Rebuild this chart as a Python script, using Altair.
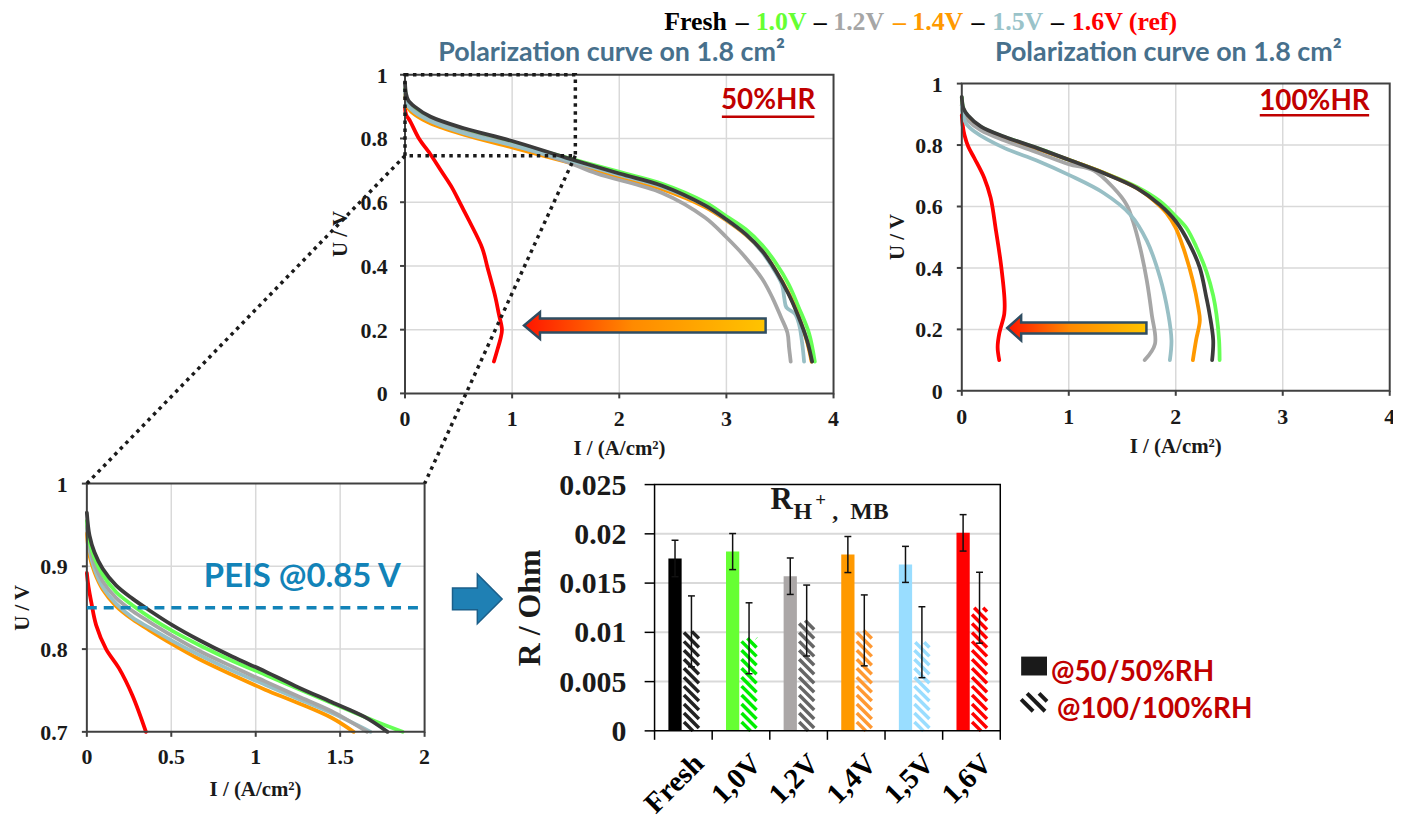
import altair as alt
import pandas as pd

# ------------------------------------------------------------------ data
# polarization curves, points are (I [A/cm2], U [V])
HR50_FRESH = [(0.00, 0.975), (0.01, 0.94), (0.03, 0.92), (0.09, 0.90), (0.24, 0.868), (0.55, 0.832),
              (1.00, 0.792), (1.50, 0.740), (2.00, 0.690), (2.40, 0.652), (2.80, 0.590), (3.00, 0.546),
              (3.18, 0.500), (3.335, 0.447), (3.46, 0.385), (3.58, 0.312), (3.675, 0.239), (3.753, 0.166),
              (3.80, 0.100)]
HR50_10V = [(0.00, 0.955), (0.01, 0.93), (0.03, 0.91), (0.09, 0.888), (0.24, 0.860), (0.55, 0.825),
            (1.00, 0.786), (1.50, 0.741), (2.00, 0.695), (2.40, 0.658), (2.80, 0.600), (3.00, 0.556),
            (3.18, 0.515), (3.335, 0.465), (3.46, 0.410), (3.58, 0.343), (3.675, 0.270), (3.77, 0.190),
            (3.825, 0.100)]
HR50_12V = [(0.00, 0.950), (0.01, 0.925), (0.03, 0.905), (0.09, 0.885), (0.24, 0.857), (0.55, 0.820),
            (1.00, 0.780), (1.50, 0.728), (1.79, 0.690), (2.40, 0.629), (2.80, 0.552), (3.00, 0.490),
            (3.18, 0.426), (3.335, 0.359), (3.43, 0.300), (3.51, 0.239), (3.57, 0.190), (3.585, 0.143),
            (3.60, 0.100)]
HR50_14V = [(0.00, 0.940), (0.01, 0.915), (0.03, 0.895), (0.09, 0.875), (0.24, 0.847), (0.55, 0.812),
            (1.00, 0.772), (1.50, 0.727), (2.00, 0.679), (2.40, 0.641), (2.80, 0.585), (3.00, 0.543),
            (3.18, 0.498), (3.335, 0.446), (3.46, 0.386), (3.58, 0.315), (3.675, 0.240), (3.75, 0.166),
            (3.795, 0.100)]
HR50_15V = [(0.00, 0.950), (0.01, 0.922), (0.03, 0.902), (0.09, 0.882), (0.24, 0.854), (0.55, 0.817),
            (1.00, 0.779), (1.50, 0.734), (2.00, 0.686), (2.40, 0.648), (2.80, 0.590), (3.00, 0.545),
            (3.18, 0.500), (3.33, 0.445), (3.45, 0.385), (3.52, 0.340), (3.54, 0.300), (3.56, 0.270),
            (3.64, 0.250), (3.68, 0.215), (3.71, 0.150), (3.725, 0.100)]
HR50_16V = [(0.00, 0.895), (0.01, 0.875), (0.05, 0.853), (0.13, 0.800), (0.24, 0.749), (0.34, 0.697),
            (0.44, 0.645), (0.52, 0.593), (0.60, 0.541), (0.72, 0.457), (0.77, 0.395), (0.845, 0.300),
            (0.875, 0.250), (0.905, 0.200), (0.89, 0.170), (0.865, 0.140), (0.83, 0.100)]

HR100_FRESH = [(0.00, 0.957), (0.015, 0.920), (0.056, 0.897), (0.18, 0.860), (0.40, 0.827), (0.706, 0.790),
               (1.00, 0.752), (1.326, 0.709), (1.636, 0.660), (1.85, 0.606), (2.00, 0.552), (2.13, 0.477),
               (2.225, 0.400), (2.286, 0.304), (2.316, 0.250), (2.35, 0.165), (2.34, 0.100)]
HR100_10V = [(0.00, 0.955), (0.015, 0.918), (0.056, 0.895), (0.18, 0.858), (0.40, 0.826), (0.706, 0.790),
             (1.00, 0.752), (1.326, 0.710), (1.636, 0.664), (1.85, 0.618), (2.00, 0.568), (2.10, 0.530),
             (2.19, 0.470), (2.29, 0.385), (2.35, 0.310), (2.38, 0.250), (2.405, 0.165), (2.41, 0.100)]
HR100_12V = [(0.00, 0.930), (0.015, 0.900), (0.056, 0.880), (0.18, 0.848), (0.40, 0.815), (0.706, 0.776),
             (1.00, 0.738), (1.23, 0.718), (1.42, 0.660), (1.54, 0.606), (1.60, 0.552), (1.667, 0.466),
             (1.73, 0.358), (1.775, 0.250), (1.806, 0.153), (1.71, 0.100)]
HR100_14V = [(0.00, 0.930), (0.015, 0.905), (0.056, 0.885), (0.18, 0.853), (0.40, 0.822), (0.706, 0.787),
             (1.00, 0.752), (1.326, 0.710), (1.636, 0.660), (1.80, 0.618), (1.915, 0.578), (2.00, 0.530),
             (2.07, 0.466), (2.16, 0.358), (2.21, 0.272), (2.225, 0.229), (2.19, 0.165), (2.16, 0.100)]
HR100_15V = [(0.00, 0.930), (0.01, 0.900), (0.04, 0.870), (0.118, 0.844), (0.40, 0.790), (0.70, 0.750),
             (1.00, 0.703), (1.326, 0.644), (1.574, 0.574), (1.73, 0.488), (1.853, 0.369), (1.93, 0.250),
             (1.96, 0.164), (1.945, 0.100)]
HR100_16V = [(0.00, 0.897), (0.01, 0.860), (0.025, 0.833), (0.06, 0.795), (0.118, 0.757), (0.21, 0.693),
             (0.27, 0.628), (0.32, 0.520), (0.366, 0.412), (0.40, 0.293), (0.397, 0.250), (0.35, 0.186),
             (0.335, 0.142), (0.35, 0.100)]

ZOOM_FRESH = [(0.0, 0.965), (0.016, 0.937), (0.045, 0.917), (0.094, 0.897), (0.173, 0.877), (0.27, 0.861),
              (0.369, 0.847), (0.506, 0.829), (0.664, 0.811), (0.86, 0.791), (1.056, 0.773), (1.25, 0.754),
              (1.449, 0.736), (1.645, 0.718), (1.78, 0.700)]
ZOOM_10V = [(0.0, 0.955), (0.016, 0.930), (0.045, 0.910), (0.094, 0.890), (0.173, 0.869), (0.27, 0.853),
            (0.369, 0.839), (0.506, 0.822), (0.664, 0.805), (0.86, 0.786), (1.056, 0.769), (1.25, 0.752),
            (1.449, 0.735), (1.645, 0.718), (1.87, 0.700)]
ZOOM_12V = [(0.0, 0.950), (0.016, 0.925), (0.045, 0.903), (0.094, 0.882), (0.173, 0.862), (0.27, 0.846),
            (0.369, 0.833), (0.506, 0.816), (0.664, 0.798), (0.86, 0.779), (1.056, 0.761), (1.25, 0.743),
            (1.449, 0.725), (1.66, 0.700)]
ZOOM_14V = [(0.0, 0.940), (0.016, 0.913), (0.045, 0.893), (0.094, 0.872), (0.173, 0.852), (0.27, 0.836),
            (0.369, 0.823), (0.506, 0.806), (0.664, 0.788), (0.86, 0.769), (1.056, 0.751), (1.25, 0.735),
            (1.449, 0.717), (1.58, 0.700)]
ZOOM_15V = [(0.0, 0.952), (0.016, 0.920), (0.045, 0.897), (0.094, 0.875), (0.173, 0.855), (0.27, 0.838),
            (0.369, 0.826), (0.506, 0.810), (0.664, 0.793), (0.86, 0.774), (1.056, 0.757), (1.25, 0.740),
            (1.449, 0.723), (1.68, 0.700)]
ZOOM_16V = [(0.0, 0.892), (0.01, 0.875), (0.026, 0.857), (0.055, 0.829), (0.114, 0.800), (0.19, 0.777),
            (0.27, 0.744), (0.35, 0.700)]

TICKS_POL_X = [0, 1, 2, 3, 4]
TICKS_POL_Y = [0, 0.2, 0.4, 0.6, 0.8, 1]
TICKS_ZOOM_X = [0, 0.5, 1, 1.5, 2]
TICKS_ZOOM_Y = [0.7, 0.8, 0.9, 1]
ZOOM_BOX_I = [0, 1.59]
ZOOM_BOX_U = [0.746, 1.0]
PEIS_U = 0.85

CATEGORIES = ["Fresh", "1,0V", "1,2V", "1,4V", "1,5V", "1,6V"]
R_50 = [0.0175, 0.0182, 0.0157, 0.0179, 0.0169, 0.0201]
R_50_ERR = [0.00185, 0.00183, 0.00185, 0.00183, 0.00183, 0.00185]
R_100 = [0.0101, 0.0094, 0.0112, 0.0102, 0.0090, 0.0125]
R_100_ERR = [0.0036, 0.0036, 0.0036, 0.0036, 0.0036, 0.0036]
TICKS_BAR_Y = [0, 0.005, 0.01, 0.015, 0.02, 0.025]
TICKS_BAR_X = [0, 1, 2, 3, 4, 5, 6]

# ------------------------------------------------------------------ style
C_FRESH, C_10, C_12, C_14, C_15, C_16 = "#3b3b3b", "#66ff55", "#a6a6a6", "#ff9900", "#98bfc5", "#ff0000"
BAR_COLORS = ["#000000", "#66ff33", "#aba7a7", "#ff9900", "#99ddff", "#ff0000"]
HATCH_COLORS = ["#222222", "#00ee00", "#666666", "#ff9933", "#99ddff", "#ff0000"]
SERIF = "Liberation Serif"
SANS = "Lato"
GRID = "#d9d9d9"
FRAME = "#404040"
INK = "#1a1a1a"
DARKRED = "#c00000"
W, H = 1393, 810
TICK_FS = 22
ONE = pd.DataFrame({"a": [0]})


def curve_df(pts):
    return pd.DataFrame({"I": [p[0] for p in pts], "U": [p[1] for p in pts], "k": list(range(len(pts)))})


def tick_df(values):
    return pd.DataFrame({"v": values, "lab": [f"{v:g}" for v in values]})


def x_ticks(values, sx, ypx, tick, color, width, fs=TICK_FS, lab_base=None, labels=True):
    df = tick_df(values)
    out = [alt.Chart(df).mark_rule(color=color, strokeWidth=width).encode(
        x=alt.X("v:Q", scale=sx, axis=None), y=alt.value(ypx), y2=alt.value(ypx + tick))]
    if labels:
        out.append(alt.Chart(df).mark_text(font=SERIF, fontWeight="bold", fontSize=fs, color=INK,
                                           align="center", baseline="alphabetic").encode(
            x=alt.X("v:Q", scale=sx, axis=None), y=alt.value(lab_base), text="lab:N"))
    return out


def y_ticks(values, sy, xpx, tick, color, width, fs=TICK_FS, lab_right=None):
    df = tick_df(values)
    return [alt.Chart(df).mark_rule(color=color, strokeWidth=width).encode(
                y=alt.Y("v:Q", scale=sy, axis=None), x=alt.value(xpx - tick), x2=alt.value(xpx)),
            alt.Chart(df).mark_text(font=SERIF, fontWeight="bold", fontSize=fs, color=INK,
                                    align="right", baseline="middle", dy=1).encode(
                y=alt.Y("v:Q", scale=sy, axis=None), x=alt.value(lab_right), text="lab:N")]


def panel(curves, sx, sy, xdom, ydom, xgrid, ygrid):
    layers = []
    gx = pd.DataFrame({"v": xgrid, "lo": [ydom[0]] * len(xgrid), "hi": [ydom[1]] * len(xgrid)})
    layers.append(alt.Chart(gx).mark_rule(color=GRID, strokeWidth=1.5).encode(
        x=alt.X("v:Q", scale=sx, axis=None), y=alt.Y("lo:Q", scale=sy, axis=None), y2="hi:Q"))
    gy = pd.DataFrame({"v": ygrid, "lo": [xdom[0]] * len(ygrid), "hi": [xdom[1]] * len(ygrid)})
    layers.append(alt.Chart(gy).mark_rule(color=GRID, strokeWidth=1.5).encode(
        y=alt.Y("v:Q", scale=sy, axis=None), x=alt.X("lo:Q", scale=sx, axis=None), x2="hi:Q"))
    for pts, color in curves:
        layers.append(alt.Chart(curve_df(pts)).mark_line(
            color=color, strokeWidth=3.8, interpolate="catmull-rom", strokeCap="round", strokeJoin="round"
        ).encode(x=alt.X("I:Q", scale=sx, axis=None), y=alt.Y("U:Q", scale=sy, axis=None),
                 order=alt.Order("k:Q")))
    frame = pd.DataFrame({"x0": [xdom[0]], "x1": [xdom[1]], "y0": [ydom[0]], "y1": [ydom[1]]})
    layers.append(alt.Chart(frame).mark_rect(fillOpacity=0, stroke=FRAME, strokeWidth=2).encode(
        x=alt.X("x0:Q", scale=sx, axis=None), x2="x1:Q",
        y=alt.Y("y0:Q", scale=sy, axis=None), y2="y1:Q"))
    return layers


def txt(s, x, y, size, color="#000000", font=SANS, align="left", baseline="alphabetic", angle=None):
    kw = dict(text=s, fontSize=size, color=color, font=font, fontWeight="bold", align=align, baseline=baseline)
    if angle is not None:
        kw["angle"] = angle
    return alt.Chart(ONE).mark_text(**kw).encode(x=alt.value(x), y=alt.value(y))


def seg(x, y, x2, y2, color, width, dash=None):
    kw = dict(color=color, strokeWidth=width)
    if dash:
        kw["strokeDash"] = dash
    return alt.Chart(ONE).mark_rule(**kw).encode(x=alt.value(x), y=alt.value(y),
                                                 x2=alt.value(x2), y2=alt.value(y2))


def shape(path, x, y, size, fill, stroke, sw):
    return alt.Chart(ONE).mark_point(shape=path, size=size, filled=True, fill=fill, stroke=stroke,
                                     strokeWidth=sw, opacity=1).encode(x=alt.value(x), y=alt.value(y))


DOT = [3.5, 4.5]
GRAD = alt.LinearGradient(gradient="linear", x1=0, x2=1, y1=0, y2=0,
                          stops=[alt.GradientStop(color="#ff1500", offset=0),
                                 alt.GradientStop(color="#ff8a00", offset=0.45),
                                 alt.GradientStop(color="#ffc400", offset=1)])

# ------------------------------------------------------------------ panel 1 (50 %HR)
sx1 = alt.Scale(domain=[0, 4], range=[399.3, 830.3], nice=False, zero=False)
sy1 = alt.Scale(domain=[0, 1], range=[385.3, 64.8], nice=False, zero=False)
p1 = panel([(HR50_16V, C_16), (HR50_10V, C_10), (HR50_14V, C_14), (HR50_12V, C_12), (HR50_15V, C_15),
            (HR50_FRESH, C_FRESH)], sx1, sy1, [0, 4], [0, 1], [1, 2, 3], [0.2, 0.4, 0.6, 0.8])
p1 += x_ticks(TICKS_POL_X, sx1, 385.3, 5, FRAME, 2, lab_base=418)
p1 += y_ticks(TICKS_POL_Y, sy1, 399.3, 5, FRAME, 2, lab_right=382)
box = pd.DataFrame({"x0": [ZOOM_BOX_I[0]], "x1": [ZOOM_BOX_I[1]], "y0": [ZOOM_BOX_U[0]], "y1": [ZOOM_BOX_U[1]]})
p1.append(alt.Chart(box).mark_rect(fillOpacity=0, stroke=INK, strokeWidth=3.5, strokeDash=DOT).encode(
    x=alt.X("x0:Q", scale=sx1, axis=None), x2="x1:Q", y=alt.Y("y0:Q", scale=sy1, axis=None), y2="y1:Q"))
layer1 = alt.layer(*p1)

# ------------------------------------------------------------------ panel 2 (100 %HR)
sx2 = alt.Scale(domain=[0, 4], range=[959.3, 1389.7], nice=False, zero=False)
sy2 = alt.Scale(domain=[0, 1], range=[382.7, 73.7], nice=False, zero=False)
p2 = panel([(HR100_16V, C_16), (HR100_10V, C_10), (HR100_14V, C_14), (HR100_12V, C_12), (HR100_15V, C_15),
            (HR100_FRESH, C_FRESH)], sx2, sy2, [0, 4], [0, 1], [1, 2, 3], [0.2, 0.4, 0.6, 0.8])
p2 += x_ticks(TICKS_POL_X, sx2, 382.7, 5, FRAME, 2, lab_base=416)
p2 += y_ticks(TICKS_POL_Y, sy2, 959.3, 5, FRAME, 2, lab_right=940)
layer2 = alt.layer(*p2)

# ------------------------------------------------------------------ zoom panel
sxz = alt.Scale(domain=[0, 2], range=[79.3, 419.0], nice=False, zero=False)
syz = alt.Scale(domain=[0.7, 1], range=[725.7, 476.0], nice=False, zero=False)
pz = panel([(ZOOM_16V, C_16), (ZOOM_14V, C_14), (ZOOM_15V, C_15), (ZOOM_12V, C_12), (ZOOM_10V, C_10),
            (ZOOM_FRESH, C_FRESH)], sxz, syz, [0, 2], [0.7, 1], [0.5, 1, 1.5], [0.8, 0.9])
pz += x_ticks(TICKS_ZOOM_X, sxz, 725.7, 5, FRAME, 2, lab_base=758)
pz += y_ticks(TICKS_ZOOM_Y, syz, 79.3, 5, FRAME, 2, lab_right=60)
peis = pd.DataFrame({"u": [PEIS_U], "lo": [0], "hi": [2]})
pz.append(alt.Chart(peis).mark_rule(color="#1283b8", strokeWidth=3.5, strokeDash=[10, 7]).encode(
    y=alt.Y("u:Q", scale=syz, axis=None), x=alt.X("lo:Q", scale=sxz, axis=None), x2="hi:Q"))
layerz = alt.layer(*pz)

# ------------------------------------------------------------------ bar chart
sxb = alt.Scale(domain=[0, 6], range=[650.3, 998.0], nice=False, zero=False)
syb = alt.Scale(domain=[0, 0.025], range=[724.7, 477.0], nice=False, zero=False)
PX_X = (998.0 - 650.3) / 6
PX_Y = (724.7 - 477.0) / 0.025

bars = pd.DataFrame({"cat": CATEGORIES, "idx": list(range(len(CATEGORIES))), "v50": R_50, "e50": R_50_ERR,
                     "v100": R_100, "e100": R_100_ERR, "c50": BAR_COLORS, "c100": HATCH_COLORS})

hatch_rows = []
for i, (v, col) in enumerate(zip(R_100, HATCH_COLORS)):
    a, b = i + 0.51, i + 0.77
    d = (b - a) * PX_X / PX_Y
    s = 9.0 / PX_Y
    y_left = 0.0
    while y_left < v + d:
        t_lo = max(0.0, (y_left - v) / d)
        t_hi = min(1.0, y_left / d)
        if t_hi > t_lo:
            hatch_rows.append({"x": a + t_lo * (b - a), "y": y_left - t_lo * d,
                               "x2": a + t_hi * (b - a), "y2": y_left - t_hi * d, "c": col})
        y_left += s
hatch = pd.DataFrame(hatch_rows)

err_rows = []
for i in range(len(CATEGORIES)):
    for xc, v, e in ((i + 0.355, R_50[i], R_50_ERR[i]), (i + 0.64, R_100[i], R_100_ERR[i])):
        err_rows.append({"xc": xc, "lo": v - e, "hi": v + e, "xl": xc - 0.06, "xr": xc + 0.06})
err = pd.DataFrame(err_rows)

gb = pd.DataFrame({"v": TICKS_BAR_Y[1:-1], "lo": 0, "hi": 6})
bar_layers = [
    alt.Chart(gb).mark_rule(color=GRID, strokeWidth=2).encode(
        y=alt.Y("v:Q", scale=syb, axis=None), x=alt.X("lo:Q", scale=sxb, axis=None), x2="hi:Q"),
    alt.Chart(bars).transform_calculate(x0="datum.idx + 0.24", x1="datum.idx + 0.47", z="0").mark_rect().encode(
        x=alt.X("x0:Q", scale=sxb, axis=None), x2="x1:Q",
        y=alt.Y("v50:Q", scale=syb, axis=None), y2="z:Q", color=alt.Color("c50:N", scale=None)),
    alt.Chart(hatch).mark_rule(strokeWidth=3.5).encode(
        x=alt.X("x:Q", scale=sxb, axis=None), x2="x2:Q",
        y=alt.Y("y:Q", scale=syb, axis=None), y2="y2:Q", color=alt.Color("c:N", scale=None)),
    alt.Chart(err).mark_rule(color="#111111", strokeWidth=1.5).encode(
        x=alt.X("xc:Q", scale=sxb, axis=None), y=alt.Y("lo:Q", scale=syb, axis=None), y2="hi:Q"),
    alt.Chart(err).mark_rule(color="#111111", strokeWidth=1.5).encode(
        x=alt.X("xl:Q", scale=sxb, axis=None), x2="xr:Q", y=alt.Y("lo:Q", scale=syb, axis=None)),
    alt.Chart(err).mark_rule(color="#111111", strokeWidth=1.5).encode(
        x=alt.X("xl:Q", scale=sxb, axis=None), x2="xr:Q", y=alt.Y("hi:Q", scale=syb, axis=None)),
    alt.Chart(pd.DataFrame({"x0": [0], "x1": [6], "y0": [0], "y1": [0.025]})).mark_rect(
        fillOpacity=0, stroke="#000000", strokeWidth=1.5).encode(
        x=alt.X("x0:Q", scale=sxb, axis=None), x2="x1:Q",
        y=alt.Y("y0:Q", scale=syb, axis=None), y2="y1:Q"),
    alt.Chart(bars).transform_calculate(xl="datum.idx + 0.6").mark_text(
        angle=315, align="right", baseline="top", font=SERIF, fontWeight="bold", fontSize=29,
        color="#000000").encode(x=alt.X("xl:Q", scale=sxb, axis=None), y=alt.value(743), text="cat:N"),
]
bar_layers += x_ticks(TICKS_BAR_X, sxb, 724.7, 9, "#000000", 1.5, labels=False)
bar_layers += y_ticks(TICKS_BAR_Y, syb, 650.3, 10, "#000000", 1.5, fs=30, lab_right=622)
layerb = alt.layer(*bar_layers)

# ------------------------------------------------------------------ annotations
ann = [
    # header line
    txt("Fresh", 660, 20, 26, "#000000", SERIF),
    txt("–", 738.5, 20, 26, "#000000", SERIF, align="center"),
    txt("1.0V", 752, 20, 26, "#66ff33", SERIF),
    txt("–", 817, 20, 26, "#000000", SERIF, align="center"),
    txt("1.2V", 830, 20, 26, "#a6a6a6", SERIF),
    txt("– 1.4V", 890, 20, 26, "#ff9900", SERIF),
    txt("–", 975.5, 20, 26, "#000000", SERIF, align="center"),
    txt("1.5V", 990, 20, 26, "#9ac3c9", SERIF),
    txt("–", 1055.5, 20, 26, "#000000", SERIF, align="center"),
    txt("1.6V (ref)", 1070, 20, 26, "#ff0000", SERIF),
    # panel titles
    txt("Polarization curve on 1.8 cm²", 607, 51, 27, "#47708c", align="center"),
    txt("Polarization curve on 1.8 cm²", 1167, 51, 27, "#47708c", align="center"),
    txt("50%HR", 764.5, 99.5, 28, DARKRED, align="center"),
    seg(718, 107, 811, 107, DARKRED, 2.5),
    txt("100%HR", 1314, 100.5, 28, DARKRED, align="center"),
    seg(1259, 105.5, 1369, 105.5, DARKRED, 2.5),
    # axis titles
    txt("I / (A/cm²)", 615, 447, 21, INK, SERIF, align="center"),
    txt("U / V", 335, 225, 21, INK, SERIF, align="center", baseline="middle", angle=270),
    txt("I / (A/cm²)", 1174.5, 445, 21, INK, SERIF, align="center"),
    txt("U / V", 895.5, 228, 21, INK, SERIF, align="center", baseline="middle", angle=270),
    txt("I / (A/cm²)", 249, 790, 21, INK, SERIF, align="center"),
    txt("U / V", 15.5, 601, 21, INK, SERIF, align="center", baseline="middle", angle=270),
    txt("R / Ohm", 525, 601, 32, INK, SERIF, align="center", baseline="middle", angle=270),
    # big gradient arrows
    shape("M -1 0 L -0.868 -0.111 L -0.868 -0.058 L 1 -0.058 L 1 0.058 L -0.868 0.058 L -0.868 0.111 Z",
          640.5, 317, 59049, GRAD, "#2f4d62", 2.5),
    shape("M -1 0 L -0.8 -0.179 L -0.8 -0.079 L 1 -0.079 L 1 0.079 L -0.8 0.079 L -0.8 0.179 Z",
          1075, 319.5, 19600, GRAD, "#2f4d62", 2.5),
    # zoom connectors
    seg(399.3, 146.2, 79.3, 476, INK, 3.5, DOT),
    seg(570.6, 146.2, 419, 476, INK, 3.5, DOT),
    # PEIS label and blue arrow
    txt("PEIS @0.85 V", 197, 580, 33, "#1283b8"),
    shape("M -0.92 -0.42 L 0.04 -0.42 L 0.04 -0.96 L 1 0 L 0.04 0.96 L 0.04 0.42 L -0.92 0.42 Z",
          471, 592, 2704, "#1f80b4", "#1b5f8a", 1.5),
    # bar chart title R_{H+, MB}
    txt("R", 767, 502, 31, INK, SERIF),
    txt("H", 790, 512, 24, INK, SERIF),
    txt("+", 812, 499, 19, INK, SERIF),
    txt(",", 829, 512, 24, INK, SERIF),
    txt("MB", 847, 512, 24, INK, SERIF),
    # legend
    alt.Chart(ONE).mark_rect(color=INK).encode(x=alt.value(1019), x2=alt.value(1045),
                                                 y=alt.value(650), y2=alt.value(669)),
    txt("@50/50%RH", 1049, 675, 28, DARKRED),
    seg(1019, 693, 1031, 705, INK, 4),
    seg(1025, 687, 1043, 705, INK, 4),
    seg(1037, 687, 1045, 695, INK, 4),
    txt("@100/100%RH", 1055, 712, 28, DARKRED),
]

chart = alt.layer(layer1, layer2, layerz, layerb, *ann).resolve_scale(
    x="independent", y="independent"
).properties(
    width=W, height=H, padding=0, autosize=alt.AutoSizeParams(type="none")
).configure_view(stroke=None)

chart.save("out.html", embed_options={"renderer": "svg", "actions": False})
